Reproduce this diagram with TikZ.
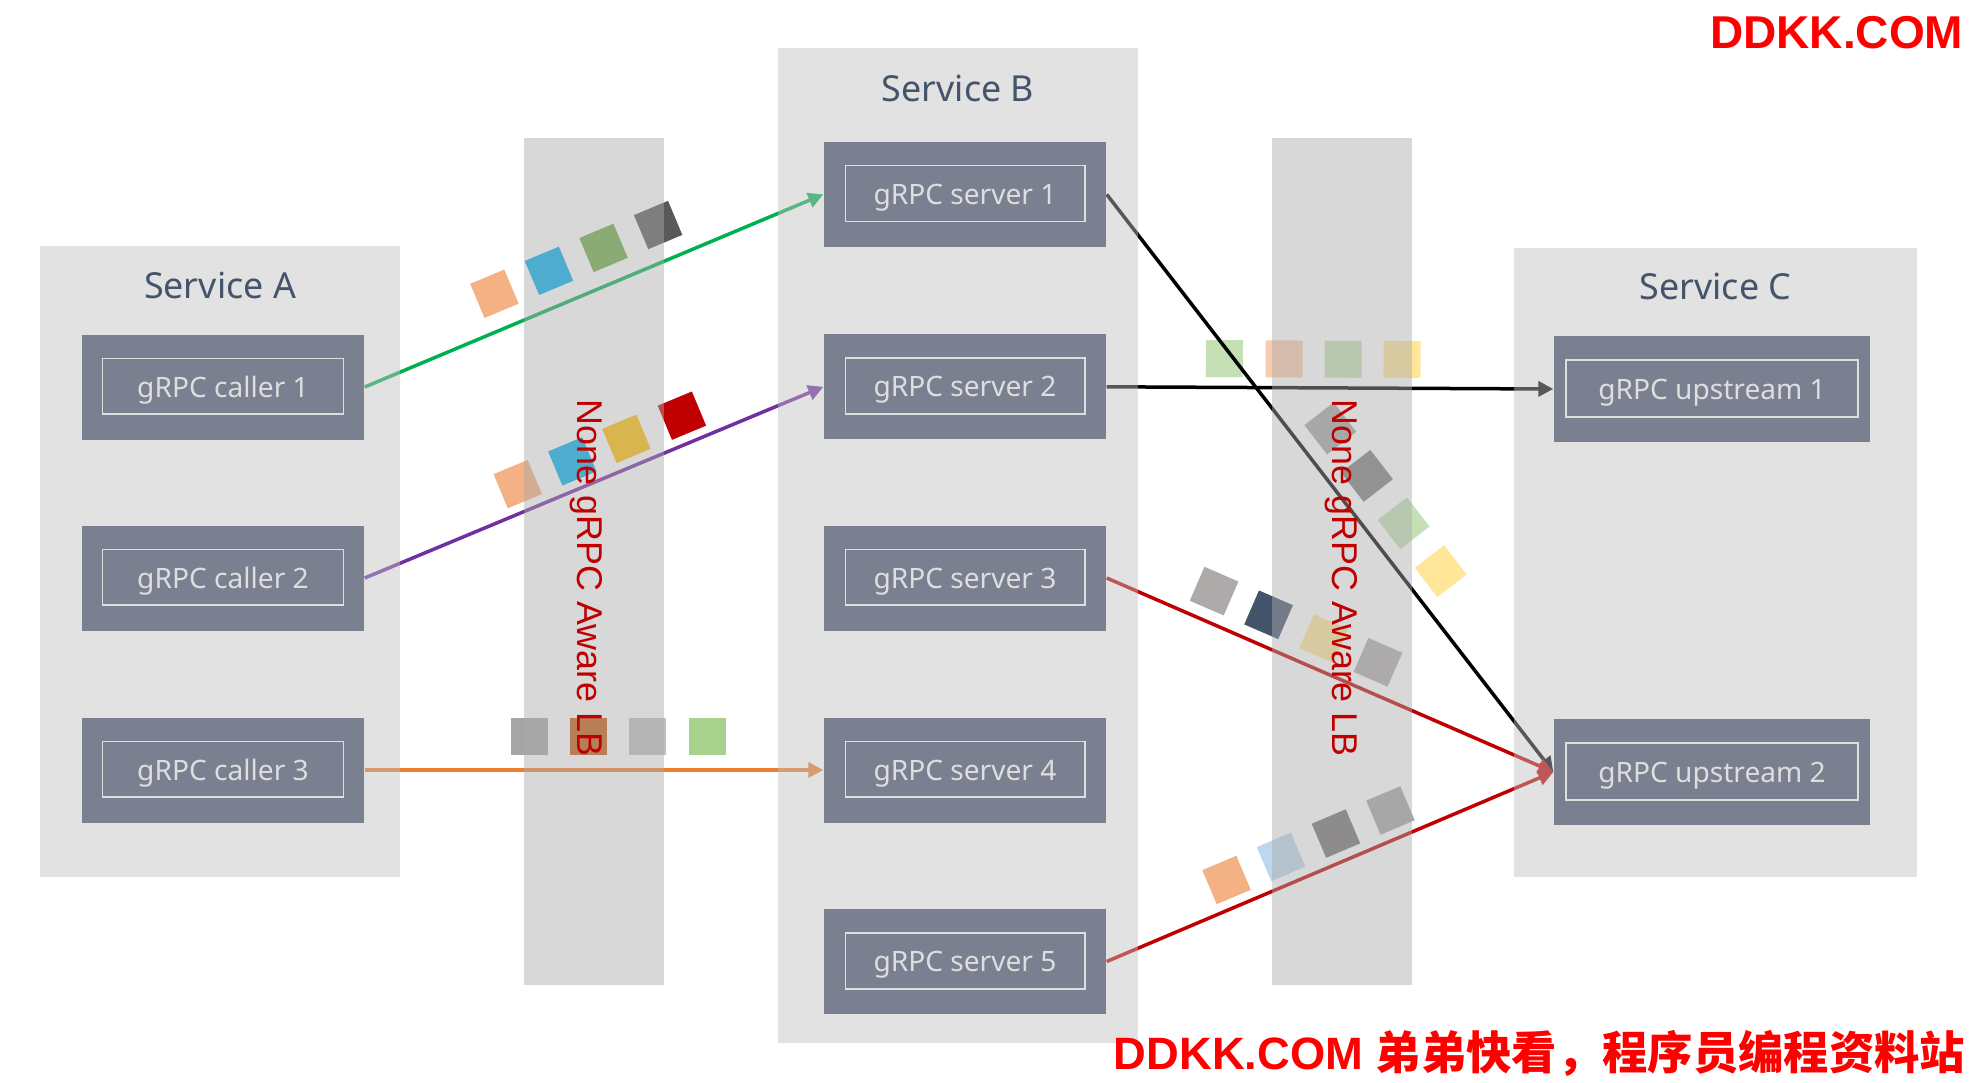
\documentclass[tikz,border=0pt]{standalone}
\usepackage{fontspec}
\setmainfont{Noto Sans}
\newfontfamily\lbfont{Liberation Sans}
\newfontfamily\cjk{Noto Sans CJK SC}
\usetikzlibrary{arrows.meta,backgrounds}
\definecolor{panelgray}{HTML}{BFBFBF}
\definecolor{bargray}{HTML}{AAAAAA}
\definecolor{unitfill}{HTML}{7A808F}
\definecolor{unittext}{HTML}{DEDEDE}
\definecolor{slate}{HTML}{44546A}
\definecolor{lbred}{HTML}{C00000}
\definecolor{wmred}{HTML}{FF0000}
\definecolor{fgreen}{HTML}{00B050}
\definecolor{fpurple}{HTML}{7030A0}
\definecolor{forange}{HTML}{ED7D31}
% packet colours
\definecolor{korange}{HTML}{F4B183}
\definecolor{kpeach}{HTML}{F8CBAD}
\definecolor{kblue}{HTML}{00B0F0}
\definecolor{kpale}{HTML}{BDD7EE}
\definecolor{kgreen}{HTML}{70AD47}
\definecolor{kmint}{HTML}{A9D18E}
\definecolor{kleaf}{HTML}{C5E0B4}
\definecolor{kgold}{HTML}{FFC000}
\definecolor{kcream}{HTML}{FFE699}
\definecolor{krust}{HTML}{C55A11}
\definecolor{kgray}{HTML}{A5A5A5}
\definecolor{ksilver}{HTML}{BFBFBF}
\definecolor{kdark}{HTML}{595959}
\definecolor{kmid}{HTML}{7F7F7F}
\definecolor{ktaupe}{HTML}{AEAAAA}
\definecolor{kbrown}{HTML}{767171}
\definecolor{knavy}{HTML}{44546A}

\begin{document}
\begin{tikzpicture}[
  unit/.style={fill=unitfill,text=unittext,font=\fontsize{8}{10}\selectfont,minimum width=2.82cm,minimum height=1.05cm,inner sep=0pt,text depth=0pt},
  wide/.style={unit,minimum width=3.16cm,minimum height=1.06cm},
  inframe/.style={draw=unittext,line width=0.45pt},
  panel/.style={fill=panelgray,fill opacity=0.46,inner sep=0pt},
  lbbar/.style={fill=bargray,fill opacity=0.46,inner sep=0pt,minimum width=1.40cm,minimum height=8.47cm},
  svctitle/.style={text=slate,font=\fontsize{10.2}{12}\selectfont},
  lbtext/.style={rotate=-90,text=lbred,font=\lbfont\fontsize{10.2}{12}\selectfont},
  wm/.style={text=wmred,font=\lbfont\bfseries\fontsize{13.1}{15}\selectfont,inner sep=0pt},
  flow/.style={line width=0.035cm,-{Triangle[length=0.15cm,width=0.15cm]}},
  pkt/.style={minimum size=0.37cm,inner sep=0pt,sloped,anchor=south,yshift=#1},
  pkt/.default=0.1cm]
  \useasboundingbox (0,0) rectangle (19.72,-10.82);

  % ---------------- units ----------------
  \foreach \i/\y in {1/3.87,2/5.78,3/7.70}
    \node[unit] (c\i) at (2.23,-\y) {gRPC caller \i};
  \foreach \i/\y in {1/1.944,2/3.868,3/5.78,4/7.70,5/9.615}
    \node[unit] (s\i) at (9.65,-\y) {gRPC server \i};
  \node[wide] (u1) at (17.12,-3.89) {gRPC upstream 1};
  \node[wide] (u2) at (17.12,-7.72) {gRPC upstream 2};
  \foreach \n/\dx in {c1/0.21,c2/0.21,c3/0.21,s1/0.22,s2/0.22,s3/0.22,s4/0.22,s5/0.22,u1/0.125,u2/0.125}
    \draw[inframe] ([shift={(\dx,-0.245)}]\n.north west) rectangle ([shift={(-\dx,0.26)}]\n.south east);

  \begin{scope}[on background layer]
    % ---------------- calls into service B ----------------
    \draw[flow,fgreen] (c1.east) -- (s1.west)
      foreach \p/\c [count=\i] in {.313/korange,.432/kblue,.551/kgreen,.670/kdark}
        {node[pkt=0.155cm,fill=\c,pos=\p] (ka\i) {}};
    \draw[flow,fpurple] (c2.east) -- (s2.west)
      foreach \p/\c [count=\i] in {.357/korange,.476/kblue,.594/kgold,.715/lbred}
        {node[pkt=0.075cm,fill=\c,pos=\p] (kb\i) {}};
    \draw[flow,forange] (c3.east) -- (s4.west)
      foreach \p/\c [count=\i] in {.359/kgray,.487/krust,.617/ksilver,.748/kmint}
        {node[pkt=0.135cm,fill=\c,pos=\p] (kc\i) {}};

    % ---------------- calls into service C ----------------
    \draw[flow,black] (s2.east) -- (u1.west)
      foreach \p/\c [count=\i] in {.263/kleaf,.397/kpeach,.529/kleaf,.661/kcream}
        {node[pkt=0.085cm,fill=\c,pos=\p] (kd\i) {}};
    \draw[flow,black] (s1.east) -- (u2.west)
      foreach \p/\c [count=\i] in {.441/kgray,.523/kmid,.605/kleaf,.688/kcream}
        {node[pkt=0.135cm,fill=\c,pos=\p] (ke\i) {}};
    \draw[flow,lbred] (s3.east) -- (u2.west)
      foreach \p/\c [count=\i] in {.213/ktaupe,.335/knavy,.458/kcream,.580/ktaupe}
        {node[pkt=0.105cm,fill=\c,pos=\p] (kf\i) {}};
    \draw[flow,lbred] (s5.east) -- (u2.west)
      foreach \p/\c [count=\i] in {.293/korange,.415/kpale,.538/kbrown,.660/kgray}
        {node[pkt=0.08cm,fill=\c,pos=\p] (kg\i) {}};

    % panels and LB bars lie over the connectors, half see-through
    \node[panel,minimum width=3.60cm,minimum height=6.31cm] (pa) at (2.20,-5.615) {};
    \node[panel,minimum width=3.60cm,minimum height=9.95cm] (pb) at (9.58,-5.455) {};
    \node[panel,minimum width=4.03cm,minimum height=6.29cm] (pc) at (17.155,-5.625) {};
    \node[lbbar] (lb1) at (5.94,-5.615) {};
    \node[lbbar] (lb2) at (13.415,-5.615) {};
  \end{scope}

  % ---------------- titles ----------------
  \node[svctitle] (ta) at ([yshift=-0.4cm]pa.north) {Service A};
  \node[svctitle] (tb) at ([yshift=-0.41cm]pb.north) {Service B};
  \node[svctitle] (tc) at ([yshift=-0.39cm]pc.north) {Service C};
  \node[lbtext] (la) at (5.86,-5.78) {None gRPC Aware LB};
  \node[lbtext] (lc) at (13.41,-5.78) {None gRPC Aware LB};

  % ---------------- watermarks ----------------
  \node[wm,anchor=base east] (wm1) at (19.64,-0.48) {DDKK.COM};
  \node[wm,anchor=base east,font=\lbfont\bfseries\fontsize{12.9}{15}\selectfont] (wm2) at (19.66,-10.69) {DDKK.COM {\cjk 弟弟快看，程序员编程资料站}};
\end{tikzpicture}
\end{document}
